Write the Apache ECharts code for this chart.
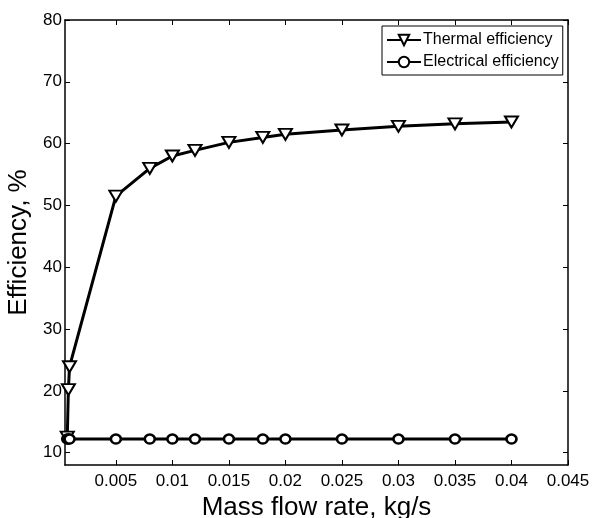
<!DOCTYPE html>
<html lang="en">
<head>
    <meta charset="UTF-8">
    <title>Efficiency vs mass flow rate</title>
    <script src="https://cdn.jsdelivr.net/npm/echarts@6/dist/echarts.min.js"></script>
    <style>
        html, body { margin: 0; padding: 0; background: #fff; }
    </style>
</head>
<body>
    <div id="main" style="width: 598px;height:518px;"></div>
</body>

<script>
    var myChart = echarts.init(document.getElementById('main'));
    // data
    var massFlow = [0.0007, 0.0008, 0.0009, 0.005, 0.008, 0.01, 0.012, 0.015, 0.018, 0.02, 0.025, 0.03, 0.035, 0.04];
    var thermalEff = [12.5, 20.2, 23.9, 51.5, 56.0, 58.0, 58.9, 60.2, 61.0, 61.5, 62.2, 62.8, 63.2, 63.5];
    var electricalEff = [12.2, 12.2, 12.2, 12.2, 12.2, 12.2, 12.2, 12.2, 12.2, 12.2, 12.2, 12.2, 12.2, 12.2];
    var xTicks = [0.005, 0.01, 0.015, 0.02, 0.025, 0.03, 0.035, 0.04, 0.045];
    var yTicks = [10, 20, 30, 40, 50, 60, 70, 80];
    var seriesNames = ['Thermal efficiency', 'Electrical efficiency'];

    var font = 'Liberation Sans, Arial, sans-serif';

    function pairs(xs, ys) {
        return xs.map(function (x, i) { return [x, ys[i]]; });
    }

    function xAxisCfg(pos, showLabel) {
        return {
            type: 'value',
            position: pos,
            min: 0.0005,
            max: 0.045,
            name: showLabel ? 'Mass flow rate, kg/s' : '',
            nameLocation: 'middle',
            nameGap: 25,
            nameTextStyle: { fontSize: 26, color: '#000', fontFamily: font },
            splitLine: { show: false },
            axisLine: { show: true, onZero: false, lineStyle: { color: '#000', width: 1.5 } },
            axisTick: { show: true, inside: true, length: 5, customValues: xTicks, lineStyle: { color: '#000' } },
            axisLabel: {
                show: showLabel, customValues: xTicks, margin: 8,
                fontSize: 17, color: '#000', fontFamily: font,
                formatter: function (v) { return String(+v.toFixed(4)); }
            }
        };
    }

    function yAxisCfg(pos, showLabel) {
        return {
            type: 'value',
            position: pos,
            min: 8,
            max: 80,
            name: showLabel ? 'Efficiency, %' : '',
            nameLocation: 'middle',
            nameGap: 28,
            nameTextStyle: { fontSize: 26, color: '#000', fontFamily: font },
            splitLine: { show: false },
            axisLine: { show: true, onZero: false, lineStyle: { color: '#000', width: 1.5 } },
            axisTick: { show: true, inside: true, length: 5, customValues: yTicks, lineStyle: { color: '#000' } },
            axisLabel: {
                show: showLabel, customValues: yTicks, margin: 3,
                fontSize: 17, color: '#000', fontFamily: font
            }
        };
    }

    var option = {
        backgroundColor: '#fff',
        animation: false,
        grid: { left: 65, right: 30, top: 20, bottom: 53, containLabel: false, outerBoundsMode: 'none' },
        legend: {
            orient: 'vertical',
            left: 382,
            top: 26,
            width: 181,
            padding: [6, 4, 5, 4],
            itemGap: 6,
            itemWidth: 34,
            itemHeight: 13,
            borderColor: '#000',
            borderWidth: 1,
            backgroundColor: '#fff',
            textStyle: { fontSize: 16, color: '#000', fontFamily: font, padding: [0, 0, 0, -3] },
            data: seriesNames
        },
        xAxis: [xAxisCfg('bottom', true), xAxisCfg('top', false)],
        yAxis: [yAxisCfg('left', true), yAxisCfg('right', false)],
        series: [
            {
                name: seriesNames[0],
                type: 'line',
                data: pairs(massFlow, thermalEff),
                symbol: 'triangle',
                symbolRotate: 180,
                symbolSize: [13, 11],
                lineStyle: { color: '#000', width: 3 },
                itemStyle: { color: '#fff', borderColor: '#000', borderWidth: 2 },
                z: 3
            },
            {
                name: seriesNames[1],
                type: 'line',
                data: pairs(massFlow, electricalEff),
                symbol: 'circle',
                symbolSize: [10, 9],
                lineStyle: { color: '#000', width: 3 },
                itemStyle: { color: '#fff', borderColor: '#000', borderWidth: 2.5 },
                z: 4
            }
        ]
    };

    myChart.setOption(option);
</script>
</html>
